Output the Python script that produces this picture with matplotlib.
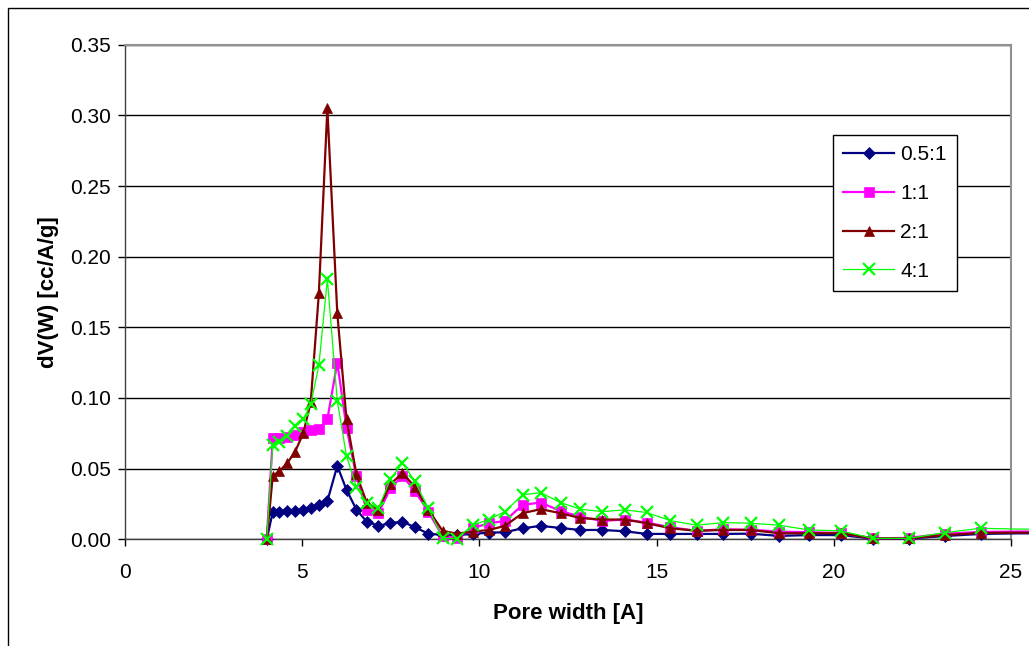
import numpy as np
import matplotlib
matplotlib.use("Agg")
import matplotlib.pyplot as plt
from matplotlib.patches import Rectangle

plt.rcParams['font.family'] = ['Liberation Sans', 'DejaVu Sans']

# Pore width [A]
pore_width = [4.00, 4.17, 4.35, 4.58, 4.80, 5.03, 5.24, 5.47, 5.71, 5.99,
              6.25, 6.53, 6.82, 7.15, 7.49, 7.83, 8.18, 8.56, 8.96, 9.36,
              9.81, 10.27, 10.72, 11.22, 11.73, 12.29, 12.85, 13.47, 14.10, 14.72,
              15.39, 16.13, 16.88, 17.65, 18.45, 19.30, 20.19, 21.11, 22.12, 23.13,
              24.14, 25.23, 26.40]

s_05_1 = [0, 0.0196, 0.0196, 0.0197, 0.0200, 0.021, 0.022, 0.024, 0.027, 0.052,
          0.035, 0.021, 0.0125, 0.0095, 0.0114, 0.0125, 0.0085, 0.004, 0.003, 0.003,
          0.0038, 0.0047, 0.005, 0.0078, 0.0095, 0.008, 0.0066, 0.0066, 0.0057, 0.0038,
          0.0038, 0.0038, 0.0038, 0.0040, 0.0024, 0.0030, 0.0030, 0.0005, 0.0005, 0.0023,
          0.0038, 0.0042, 0.0042]

s_1_1 = [0, 0.072, 0.072, 0.0725, 0.074, 0.076, 0.077, 0.078, 0.085, 0.125,
         0.079, 0.0445, 0.021, 0.0185, 0.036, 0.045, 0.034, 0.0196, 0.002, 0.001,
         0.0078, 0.0114, 0.013, 0.0244, 0.026, 0.020, 0.016, 0.013, 0.014, 0.0118,
         0.0085, 0.006, 0.0071, 0.0068, 0.0054, 0.0050, 0.0045, 0.0007, 0.0010, 0.0040,
         0.0052, 0.0055, 0.0055]

s_2_1 = [0, 0.045, 0.048, 0.054, 0.062, 0.075, 0.097, 0.174, 0.305, 0.160,
         0.085, 0.046, 0.026, 0.021, 0.039, 0.047, 0.037, 0.021, 0.006, 0.004,
         0.0054, 0.0066, 0.0095, 0.0185, 0.0213, 0.0185, 0.015, 0.014, 0.014, 0.0114,
         0.0078, 0.006, 0.0066, 0.0066, 0.0043, 0.0043, 0.0043, 0.0007, 0.0007, 0.003,
         0.0045, 0.0047, 0.0047]

s_4_1 = [0, 0.067, 0.069, 0.073, 0.080, 0.085, 0.0955, 0.123, 0.184, 0.098,
         0.059, 0.037, 0.0256, 0.022, 0.0427, 0.054, 0.041, 0.022, 0.0007, 0.0005,
         0.010, 0.014, 0.0196, 0.0315, 0.033, 0.026, 0.0213, 0.0196, 0.0208, 0.019,
         0.0132, 0.010, 0.0118, 0.0114, 0.010, 0.0066, 0.006, 0.0007, 0.0007, 0.0047,
         0.0078, 0.0072, 0.0072]

labels = ['0.5:1', '1:1', '2:1', '4:1']
x_ticks = [0, 5, 10, 15, 20, 25]
y_ticks = [0.00, 0.05, 0.10, 0.15, 0.20, 0.25, 0.30, 0.35]

W, H = 1029, 646
fig = plt.figure(figsize=(W / 100, H / 100), dpi=100)
fig.patch.set_facecolor('white')

# outer chart border (cropped on the right and bottom)
fig.patches.append(Rectangle((8 / W, -0.2), 1.2, 1.2 - 8 / H,
                             transform=fig.transFigure, fill=False,
                             edgecolor='black', linewidth=1.0, zorder=0))

ax = fig.add_axes([125 / W, 106.7 / H, 886 / W, 494.6 / H])
ax.set_xlim(0, 25)
ax.set_ylim(0, 0.35)

x = np.array(pore_width)
mask = x <= 25

styles = [
    dict(color='#000080', marker='D', ms=6, lw=1.6, mew=0.5),
    dict(color='#FF00FF', marker='s', ms=6.5, lw=1.6, mew=0.5),
    dict(color='#800000', marker='^', ms=7.5, lw=1.6, mew=0.5),
    dict(color='#00FF00', marker='x', ms=9, lw=0.9, mew=1.6),
]
series = [s_05_1, s_1_1, s_2_1, s_4_1]
handles = []
for ys, lab, st in zip(series, labels, styles):
    h, = ax.plot(x, ys, color=st['color'], marker=st['marker'],
                 markersize=st['ms'], linewidth=st['lw'],
                 markeredgewidth=st['mew'], markeredgecolor=st['color'],
                 markerfacecolor=st['color'], markevery=list(mask),
                 clip_on=False, label=lab, zorder=3)
    handles.append(h)

ax.set_xticks(x_ticks)
ax.set_yticks(y_ticks)
ax.set_yticklabels([f'{v:.2f}' for v in y_ticks])
ax.tick_params(axis='both', direction='out', length=5, width=1,
               labelsize=15, colors='black')
ax.tick_params(axis='x', pad=12)
ax.tick_params(axis='y', pad=5)

ax.yaxis.grid(True, color='black', linewidth=1.0)
ax.set_axisbelow(True)

for side in ['left', 'bottom']:
    ax.spines[side].set_color('#404040')
    ax.spines[side].set_linewidth(1.0)
for side in ['top', 'right']:
    ax.spines[side].set_color('#909090')
    ax.spines[side].set_linewidth(1.5)

ax.set_xlabel('Pore width [A]', fontsize=16, fontweight='bold')
ax.set_ylabel('dV(W) [cc/A/g]', fontsize=16, fontweight='bold')
ax.xaxis.set_label_coords(0.5, -0.128)
ax.yaxis.set_label_coords(-0.075, 0.5)

leg = ax.legend(handles=handles, loc='upper left',
                bbox_to_anchor=(832.7 / W, 1 - 135 / H),
                bbox_transform=fig.transFigure,
                fontsize=15, frameon=True, fancybox=False, shadow=False,
                handlelength=2.45, handletextpad=0.3, labelspacing=0.95,
                borderpad=0.5, borderaxespad=0)
leg.get_frame().set_edgecolor('black')
leg.get_frame().set_linewidth(1.0)
leg.get_frame().set_alpha(1.0)
leg.set_zorder(5)

fig.savefig('out.png', dpi=100)
